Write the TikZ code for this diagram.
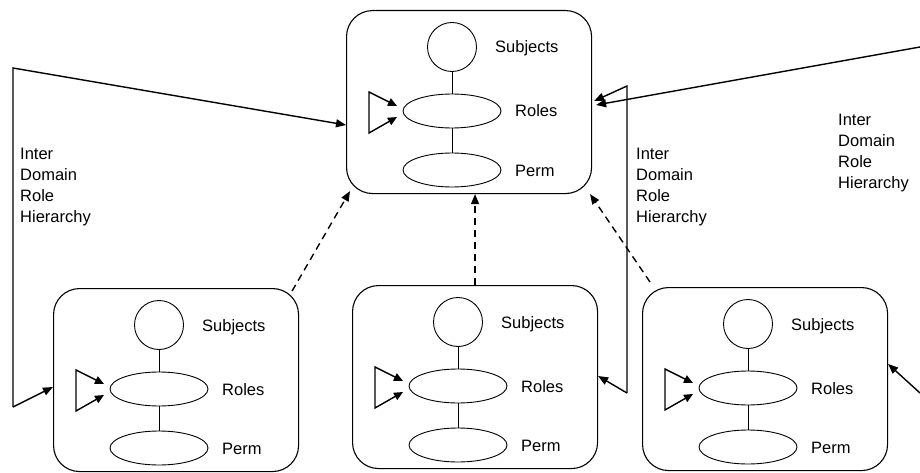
\documentclass[tikz,border=0pt]{standalone}
\usepackage{fontspec}
\setmainfont{Liberation Sans}
\usetikzlibrary{shapes.geometric,arrows.meta,calc}

% One domain: rounded frame, subject circle, role and permission ovals,
% and the intra-domain role hierarchy triangle.
% #1 = name, #2,#3 = top-left corner of the frame
\newcommand\DomainBox[3]{%
  \node[dbox] (#1) at (#2,#3) {};
  \node[subj] (#1-s) at ($(#1.north west)+(106,37)$) {};
  \node[oval] (#1-r) at ($(#1-s.center)+(0,64)$) {};
  \node[oval] (#1-p) at ($(#1-s.center)+(0,123)$) {};
  \draw[link] (#1-s) -- (#1-r);
  \draw[link] (#1-r) -- (#1-p);
  \node[lbl] (#1-ls) at ($(#1-s.center)+(43,6)$) {Subjects};
  \node[lbl] (#1-lr) at ($(#1-r.center)+(63,6)$) {Roles};
  \node[lbl] (#1-lp) at ($(#1-p.center)+(63,6)$) {Perm};
  \coordinate (#1-ta) at ($(#1-r.center)+(-83,-19)$);
  \coordinate (#1-tb) at ($(#1-r.center)+(-83,22)$);
  \coordinate (#1-t1) at ($(#1-r.center)+(-55,-5)$);
  \coordinate (#1-t2) at ($(#1-r.center)+(-55,6)$);
  \draw[tri] (#1-t1) -- (#1-ta) -- (#1-tb) -- (#1-t2);
}

\begin{document}
\begin{tikzpicture}[x=1pt,y=-1pt,
  dbox/.style={draw, rounded corners=26pt, line width=1.1pt,
    minimum width=245pt, minimum height=183pt, inner sep=0pt, anchor=north west},
  subj/.style={draw, circle, line width=0.9pt, minimum size=49pt, inner sep=0pt},
  oval/.style={draw, ellipse, line width=0.9pt, minimum width=98pt,
    minimum height=34pt, inner sep=0pt},
  link/.style={line width=0.9pt},
  lbl/.style={anchor=base west, inner sep=0pt,
    font={\fontsize{16.5}{21}\selectfont}},
  tag/.style={anchor=north west, inner sep=0pt, align=left,
    font={\fontsize{16.5}{21}\selectfont}},
  tri/.style={line width=1.4pt, {Triangle[length=9pt,width=8pt]}-{Triangle[length=9pt,width=8pt]}},
  conn/.style={line width=1.4pt, -{Triangle[length=10pt,width=8pt]}},
  dconn/.style={line width=1.4pt, dash pattern=on 7pt off 5pt,
    -{Triangle[length=10pt,width=8pt]}}
]
\useasboundingbox (0,0) rectangle (920,473);
\fill[white] (0,0) rectangle (920,473);

\DomainBox{T}{346}{10}
\DomainBox{BL}{53}{288}
\DomainBox{BM}{352}{285}
\DomainBox{BR}{642}{287}

% left inter-domain loop
\coordinate (L1) at (13,68);
\coordinate (L2) at (13,407);
\draw[conn] (L2) -- (L1) -- ($(T.north west)+(0,115)$);
\draw[conn] (L2) -- ($(BL.north west)+(0,99)$);
\node[tag] (Ltag) at (20,148) {Inter\\Domain\\Role\\Hierarchy};

% middle inter-domain loop
\coordinate (M1) at (627,86);
\coordinate (M2) at (627,393);
\draw[conn] (M2) -- (M1) -- ($(T.north east)+(2,91)$);
\draw[conn] (M2) -- ($(BM.north east)+(0,91)$);
\node[tag] (Mtag) at (636,148) {Inter\\Domain\\Role\\Hierarchy};

% right inter-domain loop (runs off the right edge)
\coordinate (R1) at (920,47);
\coordinate (R2) at (920,393);
\draw[conn] (R1) -- ($(T.north east)+(4,95)$);
\draw[conn] (R2) -- ($(BR.north east)+(0,77)$);
\node[tag] (Rtag) at (838,114) {Inter\\Domain\\Role\\Hierarchy};

% dashed links from the lower domains to the upper one
\draw[dconn] ($(BL.north east)+(-7,3)$) -- ($(T.south west)+(4,-3)$);
\draw[dconn] (BM.north) -- (BM.north |- T.south);
\draw[dconn] ($(BR.north west)+(8,-5)$) -- ($(T.south east)+(-2,0)$);
\end{tikzpicture}
\end{document}
